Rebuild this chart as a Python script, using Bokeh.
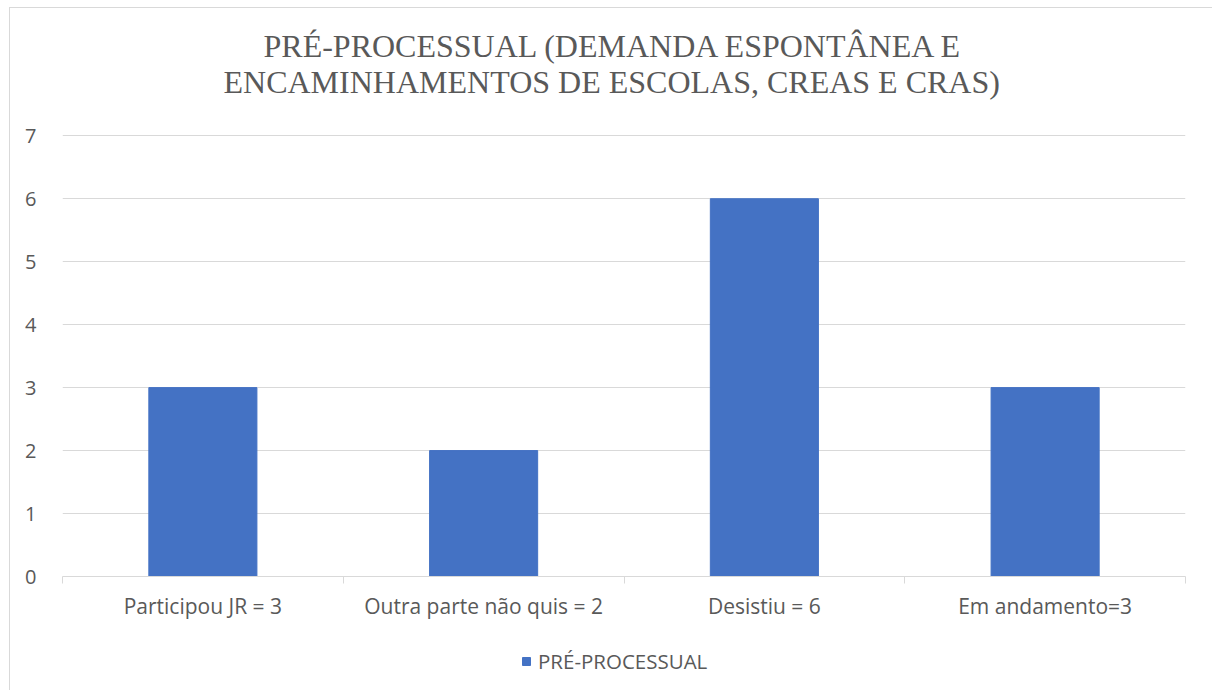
from bokeh.plotting import figure
from bokeh.models import FixedTicker, Legend, LegendItem, ColumnDataSource, Title
from bokeh.layouts import column
from bokeh.embed import file_html
from bokeh.resources import INLINE

categories = ["Participou JR = 3", "Outra parte não quis = 2", "Desistiu = 6", "Em andamento=3"]
values = [3, 2, 6, 3]
series_name = "PRÉ-PROCESSUAL"
title_lines = ["PRÉ-PROCESSUAL (DEMANDA ESPONTÂNEA E", "ENCAMINHAMENTOS DE ESCOLAS, CREAS E CRAS)"]
y_ticks = [0, 1, 2, 3, 4, 5, 6, 7]

centers = [i + 0.5 for i in range(len(categories))]
bounds = list(range(len(categories) + 1))

src = ColumnDataSource(dict(x=centers, top=values))
BAR = "#4472C4"
TXT = "#595959"
GRID = "#d9d9d9"

p = figure(width=1202, height=625, output_backend="svg", toolbar_location=None,
           x_range=(0, len(categories)), y_range=(0, 7.02),
           min_border_left=52, min_border_right=27, min_border_top=126, min_border_bottom=57)
p.title.visible = False

def add_title(txt, standoff, offset):
    t = Title(text=txt, align="left", text_font="Liberation Serif", text_font_size="32px",
              text_font_style="normal", text_color=TXT, standoff=standoff, offset=offset)
    p.add_layout(t, "above")

add_title(title_lines[1], 69, 161)
add_title(title_lines[0], -73, 201)

p.outline_line_color = None
p.background_fill_color = "white"
p.border_fill_color = "white"

r = p.vbar(x="x", top="top", width=0.385, source=src, color=BAR)

p.xgrid.grid_line_color = None
p.ygrid.grid_line_color = GRID
p.ygrid.grid_line_width = 1

p.xaxis.ticker = FixedTicker(ticks=centers, minor_ticks=bounds)
p.xaxis.major_label_overrides = {c: lab for c, lab in zip(centers, categories)}
p.xaxis.major_tick_line_color = None
p.xaxis.major_tick_out = 0
p.xaxis.major_tick_in = 0
p.xaxis.minor_tick_line_color = GRID
p.xaxis.minor_tick_out = 7
p.xaxis.minor_tick_in = 0
p.xaxis.axis_line_color = GRID
p.xaxis.major_label_text_font = "Open Sans"
p.xaxis.major_label_text_font_size = "21px"
p.xaxis.major_label_text_color = TXT
p.xaxis.major_label_standoff = 8

p.yaxis.ticker = FixedTicker(ticks=y_ticks)
p.yaxis.axis_line_color = None
p.yaxis.major_tick_line_color = None
p.yaxis.major_tick_out = 0
p.yaxis.major_tick_in = 0
p.yaxis.minor_tick_line_color = None
p.yaxis.major_label_text_font = "Open Sans"
p.yaxis.major_label_text_font_size = "20px"
p.yaxis.major_label_text_color = TXT
p.yaxis.major_label_standoff = 26

# legend strip below the plot
p2 = figure(width=1202, height=58, output_backend="svg", toolbar_location=None,
            x_range=(0, len(categories)), y_range=(100, 101),
            x_axis_location=None, y_axis_location=None,
            min_border_left=0, min_border_right=0, min_border_top=0, min_border_bottom=0)
p2.outline_line_color = None
p2.xgrid.visible = False
p2.ygrid.visible = False
p2.title.visible = False
r2 = p2.vbar(x=centers, top=values, width=0.385, color=BAR)
legend = Legend(items=[LegendItem(label=series_name, renderers=[r2])],
                location=(459, 16), orientation="horizontal",
                label_text_font="Open Sans", label_text_font_size="20.5px",
                label_text_color=TXT, glyph_width=10, glyph_height=10,
                padding=0, margin=0, border_line_color=None, background_fill_alpha=0,
                label_standoff=7)
p2.add_layout(legend, "center")

layout = column(p, p2, spacing=0)
layout.styles = {"margin-left": "9px", "margin-top": "7px",
                 "border-left": "1px solid #d9d9d9", "border-top": "1px solid #d9d9d9",
                 "border-right": "1px solid #d9d9d9"}

open("out.html", "w").write(file_html(layout, INLINE))
